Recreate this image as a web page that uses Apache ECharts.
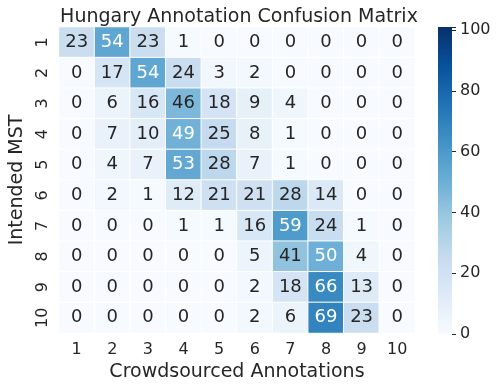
<!DOCTYPE html>
<html>
<head>
<meta charset="utf-8">
<script src="https://cdn.jsdelivr.net/npm/echarts@6/dist/echarts.min.js"></script>
<style>
html, body { margin: 0; padding: 0; background: #ffffff; }
#main { width: 500px; height: 387px; }
</style>
</head>
<body>
<div id="main"></div>
<script>
const crowdLabels = ['1', '2', '3', '4', '5', '6', '7', '8', '9', '10'];
const intendedLabels = ['1', '2', '3', '4', '5', '6', '7', '8', '9', '10'];
// rows = Intended MST, columns = Crowdsourced Annotations
const row1 = [23, 54, 23, 1, 0, 0, 0, 0, 0, 0];
const row2 = [0, 17, 54, 24, 3, 2, 0, 0, 0, 0];
const row3 = [0, 6, 16, 46, 18, 9, 4, 0, 0, 0];
const row4 = [0, 7, 10, 49, 25, 8, 1, 0, 0, 0];
const row5 = [0, 4, 7, 53, 28, 7, 1, 0, 0, 0];
const row6 = [0, 2, 1, 12, 21, 21, 28, 14, 0, 0];
const row7 = [0, 0, 0, 1, 1, 16, 59, 24, 1, 0];
const row8 = [0, 0, 0, 0, 0, 5, 41, 50, 4, 0];
const row9 = [0, 0, 0, 0, 0, 2, 18, 66, 13, 0];
const row10 = [0, 0, 0, 0, 0, 2, 6, 69, 23, 0];
const colorbarTicks = [0, 20, 40, 60, 80, 100];

const rows = [row1, row2, row3, row4, row5, row6, row7, row8, row9, row10];
const blues = ['#f7fbff', '#deebf7', '#c6dbef', '#9ecae1', '#6baed6', '#4292c6', '#2171b5', '#08519c', '#08306b'];
const vmax = 101;
const txt = '#262626';
const font = 'DejaVu Sans';

const heatData = [];
rows.forEach(function (r, i) {
	r.forEach(function (v, j) {
		heatData.push({
			value: [j, i, v],
			label: { color: v > 47 ? '#ffffff' : txt }
		});
	});
});

const chart = echarts.init(document.getElementById('main'));
const option = {
	backgroundColor: '#ffffff',
	textStyle: { fontFamily: font },
	title: {
		text: 'Hungary Annotation Confusion Matrix',
		left: 234,
		textAlign: 'center',
		top: 3,
		textStyle: { color: txt, fontSize: 19, fontWeight: 'normal', fontFamily: font }
	},
	grid: [
		{ left: 53, right: 85, top: 27, bottom: 53 },
		{ left: 438, width: 14, top: 27, bottom: 53 }
	],
	xAxis: [{
		type: 'category',
		data: crowdLabels,
		gridIndex: 0,
		name: 'Crowdsourced Annotations',
		nameLocation: 'middle',
		nameGap: 30,
		nameTextStyle: { color: txt, fontSize: 19, fontFamily: font },
		axisLine: { show: false },
		axisTick: { show: false },
		splitLine: { show: false },
		axisLabel: { color: txt, fontSize: 16, margin: 9, fontFamily: font }
	}, {
		type: 'category',
		data: ['c'],
		gridIndex: 1,
		show: false
	}],
	yAxis: [{
		type: 'category',
		data: intendedLabels,
		inverse: true,
		gridIndex: 0,
		name: 'Intended MST',
		nameLocation: 'middle',
		nameGap: 30,
		nameRotate: 90,
		nameTextStyle: { color: txt, fontSize: 19, fontFamily: font },
		axisLine: { show: false },
		axisTick: { show: false },
		splitLine: { show: false },
		axisLabel: { color: txt, fontSize: 16, rotate: 90, margin: 8, fontFamily: font }
	}, {
		type: 'value',
		gridIndex: 1,
		position: 'right',
		min: 0,
		max: vmax,
		interval: 20,
		axisLine: { show: false },
		axisTick: { show: true, length: 4, lineStyle: { color: txt, width: 1 } },
		splitLine: { show: false },
		axisLabel: {
			color: txt, fontSize: 16, margin: 8, fontFamily: font,
			formatter: function (v) { return colorbarTicks.indexOf(v) >= 0 ? String(v) : ''; }
		}
	}],
	visualMap: {
		show: false,
		min: 0,
		max: vmax,
		seriesIndex: 0,
		inRange: { color: blues }
	},
	series: [{
		type: 'heatmap',
		xAxisIndex: 0,
		yAxisIndex: 0,
		data: heatData,
		itemStyle: { borderColor: '#ffffff', borderWidth: 1 },
		label: { show: true, fontSize: 18, fontFamily: font },
		emphasis: { disabled: true }
	}, {
		type: 'bar',
		xAxisIndex: 1,
		yAxisIndex: 1,
		data: [vmax],
		barWidth: '100%',
		silent: true,
		itemStyle: {
			color: {
				type: 'linear', x: 0, y: 1, x2: 0, y2: 0,
				colorStops: blues.map(function (c, i) {
					return { offset: i / (blues.length - 1), color: c };
				})
			}
		}
	}]
};
chart.setOption(option);
</script>
</body>
</html>
